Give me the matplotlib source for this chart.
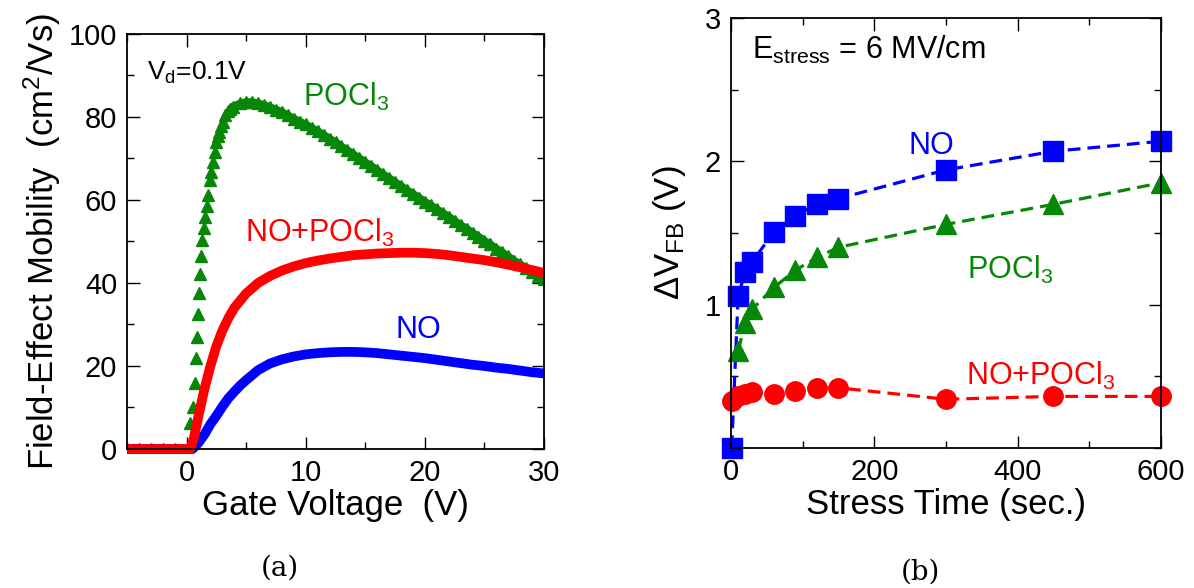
#!/usr/bin/env python

""" Mobility vs gate voltage and flat-band shift vs stress time. """

import matplotlib
matplotlib.use("Agg")
import matplotlib.pyplot as plt
from matplotlib.ticker import MultipleLocator

plt.rcParams["font.family"] = ["Liberation Sans", "DejaVu Sans"]
plt.rcParams["mathtext.fontset"] = "custom"
plt.rcParams["mathtext.rm"] = "Liberation Sans"
plt.rcParams["mathtext.it"] = "Liberation Sans:italic"
plt.rcParams["mathtext.default"] = "regular"

GREEN = "#078707"
RED = "#ff0000"
BLUE = "#0000ff"

# (a) field-effect mobility, cm^2/Vs vs gate voltage, V
vg_pocl3 = [-5, -4, -3, -2, -1, 0, 0.31, 0.53, 0.67, 0.81, 0.87, 0.95, 1.03,
            1.15, 1.23, 1.32, 1.43, 1.57, 1.71, 1.79, 1.93, 2.07, 2.21, 2.35,
            2.49, 2.6, 2.71, 2.88, 3.05, 3.25, 3.47, 3.68, 3.89, 4.5, 5.0,
            5.5, 6.0, 6.5, 7.0, 7.5, 8.0, 8.5, 9.0, 9.5, 10.0, 10.5, 11.0,
            11.5, 12.0, 12.5, 13.0, 13.5, 14.0, 14.5, 15.0, 15.5, 16.0, 16.5,
            17.0, 17.5, 18.0, 18.5, 19.0, 19.5, 20.0, 20.5, 21.0, 21.5, 22.0,
            22.5, 23.0, 23.5, 24.0, 24.5, 25.0, 25.5, 26.0, 26.5, 27.0, 27.5,
            28.0, 28.5, 29.0, 29.5, 30.0]
mu_pocl3 = [0, 0, 0, 0, 0, 0, 6.2, 10.2, 15.8, 21.9, 27.1, 32.5, 37.5,
            42.2, 46.5, 50.4, 53.2, 55.8, 58.6, 61.2, 64.8, 66.8, 69.2, 71.6,
            74.0, 75.3, 76.5, 77.8, 78.9, 80.4, 81.4, 82.0, 82.5, 83.3, 83.6,
            83.6, 83.3, 82.9, 82.4, 81.8, 81.2, 80.4, 79.6, 78.9, 78.2, 77.4,
            76.6, 75.7, 74.8, 73.9, 72.9, 72.0, 71.0, 70.1, 69.1, 68.2, 67.2,
            66.2, 65.3, 64.3, 63.4, 62.4, 61.5, 60.6, 59.6, 58.7, 57.8, 56.9,
            56.0, 55.0, 54.0, 53.1, 52.1, 51.2, 50.2, 49.3, 48.3, 47.4, 46.4,
            45.4, 44.5, 43.6, 42.7, 41.8, 40.9]

vg_no = [-5, -3, -1, 0, 0.5, 1.0, 1.5, 2.0, 2.5, 3.0, 3.5, 4.0, 4.5, 5.0,
         6, 7, 8, 9, 10, 11, 12, 13, 14, 15, 16, 17, 18, 19, 20, 21, 22, 23,
         24, 25, 26, 27, 28, 29, 30]
mu_no = [0, 0, 0, 0, 0, 1.5, 3.5, 6.0, 8.0, 10.2, 12.2, 13.8, 15.3, 16.6,
         19.0, 20.6, 21.6, 22.3, 22.8, 23.1, 23.3, 23.4, 23.4, 23.3, 23.1, 22.8,
         22.5, 22.2, 21.9, 21.5, 21.1, 20.7, 20.3, 20.0, 19.6, 19.3, 18.9,
         18.5, 18.2]

vg_nopocl3 = [-5, -3, -1, 0, 0.3, 0.6, 1.0, 1.5, 2.0, 2.5, 3.0, 3.5, 4.0, 5.0,
              6, 7, 8, 9, 10, 11, 12, 13, 14, 15, 16, 17, 18, 19, 20, 21, 22,
              23, 24, 25, 26, 27, 28, 29, 30]
mu_nopocl3 = [0, 0, 0, 0, 0, 2.5, 8.0, 14.5, 20.0, 24.8, 28.5, 31.5, 34.0,
              37.5, 40.0, 41.7, 43.0, 44.0, 44.8, 45.4, 45.9, 46.3, 46.7, 46.9,
              47.1, 47.2, 47.3, 47.3, 47.2, 47.0, 46.7, 46.3, 45.9, 45.5, 45.0,
              44.4, 43.8, 43.1, 42.4]

# (b) flat-band voltage shift, V vs stress time, s
t_no = [1, 10, 20, 30, 60, 90, 120, 150, 300, 450, 600]
dvfb_no = [0.0, 1.06, 1.23, 1.30, 1.51, 1.62, 1.70, 1.74, 1.94, 2.07, 2.14]

t_pocl3 = [10, 20, 30, 60, 90, 120, 150, 300, 450, 600]
dvfb_pocl3 = [0.68, 0.87, 0.97, 1.12, 1.24, 1.33, 1.40, 1.56, 1.70, 1.85]

t_nopocl3 = [1, 10, 20, 30, 60, 90, 120, 150, 300, 450, 600]
dvfb_nopocl3 = [0.33, 0.36, 0.38, 0.39, 0.38, 0.40, 0.42, 0.42, 0.34, 0.36,
                0.36]

TICK = 21
LABEL = 25
NOTE = 22


def style_axes(ax):
    for spine in ax.spines.values():
        spine.set_linewidth(1.3)
    ax.tick_params(which="both", direction="in", top=True, right=True,
                   width=1.0, labelsize=TICK, pad=7)
    ax.tick_params(which="major", length=9)
    ax.tick_params(which="minor", length=5)


fig = plt.figure(figsize=(11.94, 5.88), dpi=100)
ax1 = fig.add_axes([0.1064, 0.2364, 0.3492, 0.7058])
ax2 = fig.add_axes([0.6122, 0.2381, 0.3601, 0.7313])

# panel (a): the dense POCl3 data after the peak reads as a solid band
band = [i for i, v in enumerate(vg_pocl3) if v >= 3.5]
ax1.plot([vg_pocl3[i] for i in band], [mu_pocl3[i] for i in band],
         color=GREEN, lw=5.5, solid_capstyle="butt")
ax1.plot(vg_pocl3, mu_pocl3, ls="none", marker="^", ms=8.5, color=GREEN,
         mec=GREEN)
ax1.plot(vg_no, mu_no, color=BLUE, lw=7, solid_capstyle="butt",
         clip_on=False)
ax1.plot(vg_nopocl3, mu_nopocl3, color=RED, lw=7, solid_capstyle="butt",
         clip_on=False)
ax1.set_xlim(-5, 30)
ax1.set_ylim(0, 100)
ax1.set_xticks([0, 10, 20, 30])
ax1.xaxis.set_minor_locator(MultipleLocator(5))
ax1.yaxis.set_major_locator(MultipleLocator(20))
ax1.yaxis.set_minor_locator(MultipleLocator(10))
style_axes(ax1)
ax1.set_xlabel("Gate Voltage  (V)", fontsize=LABEL, labelpad=2)
ax1.set_ylabel("Field-Effect Mobility  (cm$^2$/Vs)", fontsize=LABEL,
               labelpad=4)
ax1.text(0.048, 0.906, "V$_d$=0.1V", transform=ax1.transAxes, fontsize=19,
         va="center")
ax1.text(9.75, 84.8, "POCl$_3$", color=GREEN, fontsize=NOTE, va="center")
ax1.text(4.9, 52, "NO+POCl$_3$", color=RED, fontsize=NOTE, va="center")
ax1.text(17.5, 28.7, "NO", color=BLUE, fontsize=NOTE, va="center")

# panel (b)
ax2.plot(t_no, dvfb_no, ls="--", lw=2.3, marker="s", ms=14, color=BLUE,
         clip_on=False, dashes=(4, 2.2))
ax2.plot(t_pocl3, dvfb_pocl3, ls="--", lw=2.3, marker="^", ms=15,
         color=GREEN, clip_on=False, dashes=(4, 2.2))
ax2.plot(t_nopocl3, dvfb_nopocl3, ls="--", lw=2.3, marker="o", ms=14,
         color=RED, clip_on=False, dashes=(4, 2.2))
ax2.set_xlim(0, 600)
ax2.set_ylim(0, 3)
ax2.set_xticks([0, 200, 400, 600])
ax2.set_yticks([1, 2, 3])
ax2.xaxis.set_minor_locator(MultipleLocator(100))
ax2.yaxis.set_minor_locator(MultipleLocator(0.5))
style_axes(ax2)
ax2.set_xlabel("Stress Time (sec.)", fontsize=LABEL, labelpad=2)
ax2.set_ylabel(r"$\Delta$V$_{FB}$ (V)", fontsize=LABEL, labelpad=12)
ax2.text(0.049, 0.925, "E$_{stress}$ = 6 MV/cm", transform=ax2.transAxes,
         fontsize=NOTE, va="center")
ax2.text(279, 2.11, "NO", color=BLUE, fontsize=NOTE, ha="center",
         va="center")
ax2.text(390, 1.24, "POCl$_3$", color=GREEN, fontsize=NOTE, ha="center",
         va="center")
ax2.text(432, 0.50, "NO+POCl$_3$", color=RED, fontsize=NOTE, ha="center",
         va="center")

fig.text(280 / 1194, 1 - 568 / 588, "(a)", family="DejaVu Serif",
         fontsize=20, ha="center", va="center")
fig.text(920 / 1194, 1 - 572 / 588, "(b)", family="DejaVu Serif",
         fontsize=20, ha="center", va="center")

fig.savefig("out.png", dpi=100)
